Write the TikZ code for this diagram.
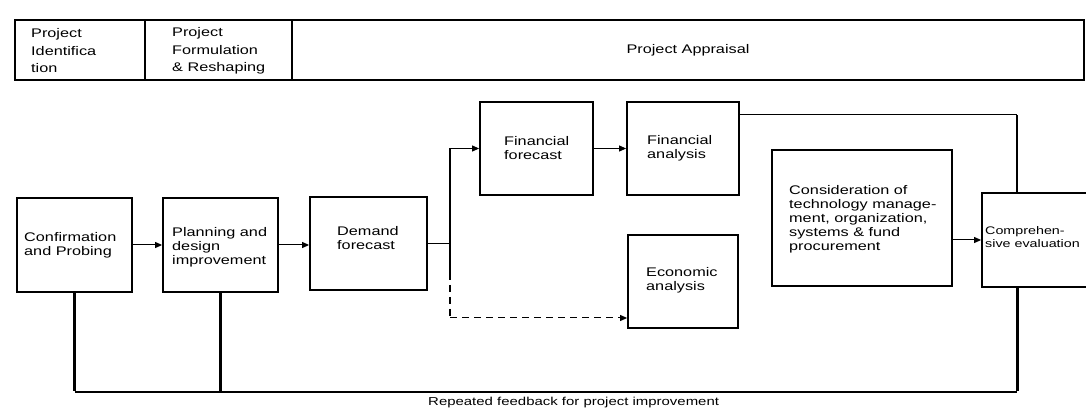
\documentclass[tikz,border=0pt]{standalone}
\usepackage{fontspec}
\setmainfont{Liberation Sans}[FakeStretch=1.3]
\usetikzlibrary{arrows.meta,calc}
\begin{document}
\begin{tikzpicture}[x=1pt,y=-1pt,
  cell/.style={draw, line width=1.6pt, inner sep=0pt},
  box/.style={draw, line width=1.8pt, inner sep=0pt},
  lbl/.style={anchor=west, align=left, inner sep=0pt, font=\fontsize{12.5}{14}\selectfont},
  hlbl/.style={anchor=west, align=left, inner sep=0pt, font=\fontsize{12.5}{17.5}\selectfont},
  conn/.style={line width=1pt},
  arr/.style={conn, -{Triangle[length=7pt,width=6pt]}},
  splitln/.style={line width=2.2pt},
  dsh/.style={dash pattern=on 7pt off 5pt},
  fbline/.style={line width=1.6pt}]
\useasboundingbox (0,0) rectangle (1086,411);
\fill[white] (0,0) rectangle (1086,411);

% header
\node[cell, minimum width=130pt, minimum height=60pt] (h1) at (80,50) {};
\node[cell, minimum width=147pt, minimum height=60pt] (h2) at (218.5,50) {};
\node[cell, minimum width=792pt, minimum height=60pt] (h3) at (688,50) {};
\node[hlbl] (h1t) at (31,51) {Project\\Identifica\\tion};
\node[hlbl] (h2t) at (172,51) {Project\\Formulation\\\& Reshaping};
\node[hlbl, anchor=center] (h3t) at (688,50) {Project Appraisal};

% boxes
\node[box, minimum width=115pt, minimum height=94pt] (conf) at (74.5,245) {};
\node[box, minimum width=115pt, minimum height=94pt] (plan) at (220.5,245) {};
\node[box, minimum width=117pt, minimum height=93pt] (dem) at (368.5,243.5) {};
\node[box, minimum width=113pt, minimum height=93pt] (ff) at (536.5,148.5) {};
\node[box, minimum width=112pt, minimum height=93pt] (fa) at (683,148.5) {};
\node[box, minimum width=110pt, minimum height=93pt] (eco) at (683,281.5) {};
\node[box, minimum width=180pt, minimum height=136pt] (cons) at (862,218) {};
\node[box, minimum width=128pt, minimum height=94pt] (comp) at (1046,240) {};

% box texts
\node[lbl] (conft) at (24,245) {Confirmation\\and Probing};
\node[lbl] (plant) at (172,247) {Planning and\\design\\improvement};
\node[lbl] (demt) at (337,238) {Demand\\forecast};
\node[lbl] (fft) at (504,148) {Financial\\forecast};
\node[lbl] (fat) at (647,148) {Financial\\analysis};
\node[lbl] (ecot) at (646,280) {Economic\\analysis};
\node[lbl] (const) at (789,219) {Consideration of\\technology manage-\\ment, organization,\\systems \& fund\\procurement};
\node[lbl, font=\fontsize{11}{13.5}\selectfont] (compt) at (985,237) {Comprehen-\\sive evaluation};

% coordinates
\coordinate (sp) at (450,243.5);
\coordinate (spT) at (450,148.5);
\coordinate (spD) at (450,273);
\coordinate (spB) at (450,318);
\coordinate (faout) at ($(fa.north east)+(0,13)$);
\coordinate (cmpIn) at (1017,115);
\coordinate (fb) at (1017,392);

% connectors
\draw[arr] (conf.east) -- (plan.west);
\draw[arr] (plan.east) -- (plan.east -| dem.west);
\draw[conn] (dem.east) -- (sp);
\draw[splitln] (spT) -- (spD);
\draw[splitln, dsh] (spD) -- (spB);
\draw[arr] (spT) -- (ff.west);
\draw[arr, dsh] (spB) -- (spB -| eco.west);
\draw[arr] (ff.east) -- (fa.west);
\draw[conn] (faout) -- (faout -| cmpIn);
\draw[splitln] (cmpIn) -- (cmpIn |- comp.north);
\draw[arr] (cons.east |- comp.west) -- (comp.west);

% feedback
\draw[fbline] (fb -| conf.south) -- (fb);
\draw[line width=3pt] (fb |- comp.south) -- ([yshift=0.8pt]fb);
\draw[line width=3pt] (conf.south) -- ([yshift=0.8pt]fb -| conf.south);
\draw[line width=3pt] (plan.south) -- ([yshift=0.8pt]fb -| plan.south);
\node[anchor=west, inner sep=0pt, font=\fontsize{11.5}{13}\selectfont] (cap) at (428,403) {Repeated feedback for project improvement};
\end{tikzpicture}
\end{document}
